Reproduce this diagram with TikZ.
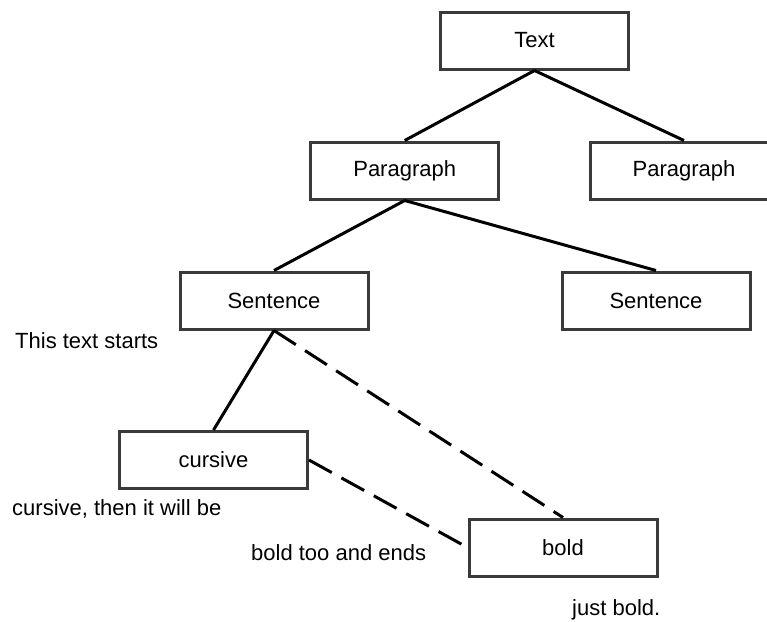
\documentclass[tikz,border=0pt]{standalone}
\usepackage{fontspec}
\setmainfont{Liberation Sans}
\definecolor{boxline}{HTML}{3A3A3A}
\begin{document}
\begin{tikzpicture}[x=1pt,y=-1pt,
  every node/.style={font=\fontsize{22}{26}\selectfont},
  treebox/.style={draw=boxline, line width=3pt, fill=white,
    minimum width=188pt, minimum height=57pt, inner sep=0pt},
  link/.style={line width=3pt, black},
  weaklink/.style={line width=3pt, black, dash pattern=on 26pt off 11pt},
  note/.style={anchor=base west, inner sep=0pt}]
\useasboundingbox (0,0) rectangle (767,621);
% tree boxes
\node[treebox] (text) at (534.5,40.5) {Text};
\node[treebox] (parA) at (404.7,170.5) {Paragraph};
\node[treebox] (parB) at (684,170.5) {Paragraph};
\node[treebox] (senA) at (274,300.5) {Sentence};
\node[treebox] (senB) at (656,300.5) {Sentence};
\node[treebox] (cur) at (213.5,460) {cursive};
\node[treebox] (bld) at (563,547.5) {bold};
% solid branches
\draw[link] (text.south) -- (parA.north);
\draw[link] (text.south) -- (parB.north);
\draw[link] (parA.south) -- (senA.north);
\draw[link] (parA.south) -- (senB.north);
\draw[link] (senA.south) -- (cur.north);
% dashed branches
\draw[weaklink] (senA.south) -- (bld.north);
\draw[weaklink] (cur.east) -- (bld.west);
% running text
\node[note] (t1) at (15,348) {This text starts};
\node[note] (t2) at (12,515) {cursive, then it will be};
\node[note] (t3) at (251,560) {bold too and ends};
\node[note] (t4) at (572,615) {just bold.};
\end{tikzpicture}
\end{document}
